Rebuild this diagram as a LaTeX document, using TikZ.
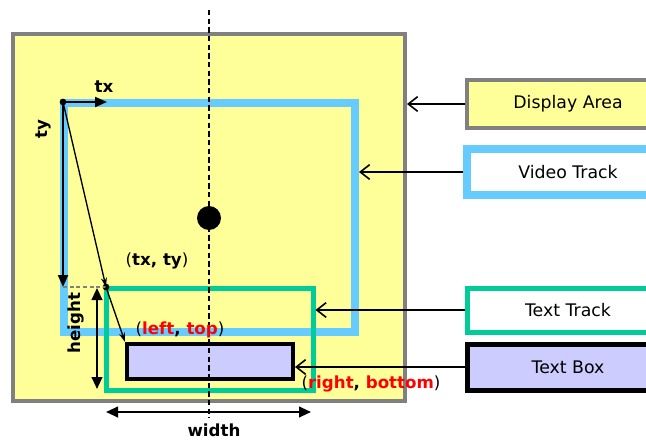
\documentclass[tikz,border=0pt]{standalone}
\usepackage{fontspec}
\setmainfont{DejaVu Sans}
\usetikzlibrary{arrows.meta}
\definecolor{areayellow}{HTML}{FFFF99}
\definecolor{areagray}{HTML}{808080}
\definecolor{videoblue}{HTML}{66CCFF}
\definecolor{trackgreen}{HTML}{00CC99}
\definecolor{boxlilac}{HTML}{CCCCFF}
\definecolor{labelred}{HTML}{FF0000}
\begin{document}
\begin{tikzpicture}[x=0.75pt, y=-0.75pt,
    region/.style={rectangle, draw, inner sep=0pt},
    legend/.style={rectangle, draw, inner sep=0pt, minimum width=151.5pt,
      font=\fontsize{13}{15}\selectfont},
    pointer/.style={line width=1.2pt, -{Straight Barb[length=7pt,width=11pt]}},
    measure/.style={line width=1.5pt,
      {Triangle[length=9pt,width=8pt]}-{Triangle[length=9pt,width=8pt]}},
    offset/.style={line width=1.5pt, -{Triangle[length=9pt,width=7.5pt]}},
    slant/.style={line width=1pt, -{Stealth[length=7pt,width=4.5pt]}},
    dot/.style={circle, fill, inner sep=0pt},
    tag/.style={font=\fontsize{12.5}{14}\selectfont\bfseries},
    coord/.style={font=\fontsize{12.5}{14}\selectfont}]
  \useasboundingbox (0,0) rectangle (646,439);
  \clip (0,0) rectangle (646,439);
  % display area, video track, text track, text box
  \node[region, draw=areagray, fill=areayellow, line width=3pt,
    minimum width=294pt, minimum height=275.25pt] (area) at (209,217.5) {};
  \node[region, draw=videoblue, line width=6pt,
    minimum width=218.25pt, minimum height=171.75pt] (video) at (209.5,217.5) {};
  \node[region, draw=trackgreen, line width=3.75pt,
    minimum width=155.25pt, minimum height=76.5pt] (track) at (209.5,339) {};
  \node[region, draw=black, fill=boxlilac, line width=3pt,
    minimum width=124.5pt, minimum height=26.25pt] (box) at (210,361.5) {};
  % centre line
  \coordinate (ctop) at (209,10);
  \coordinate (cbot) at (209,418);
  \draw[line width=1.2pt, dash pattern=on 4pt off 2.5pt] (ctop) -- (cbot);
  \node[dot, minimum size=18pt] (centre) at (209,218) {};
  % offsets
  \node[dot, minimum size=5pt] (origin) at (63,102) {};
  \node[dot, minimum size=5pt] (corner) at (106,287) {};
  \coordinate (txend) at (107,102);
  \draw[offset] (origin.center) -- (txend);
  \draw[offset] (origin.center) -- (origin.center |- corner.center);
  \draw[gray, line width=1pt, dash pattern=on 3pt off 2pt]
    (origin.center |- corner.center) -- (corner.center);
  \node[tag] (tx) at (104,87) {tx};
  \node[tag, rotate=90] (ty) at (43,129) {ty};
  \draw[slant] (origin.center) -- (corner.center);
  \draw[slant] (corner.center) -- (box.north west);
  \node[coord] (txty) at (157,261) {(\textbf{tx, ty})};
  \node[coord] (lefttop) at (180,330)
    {(\textbf{\textcolor{labelred}{left}, \textcolor{labelred}{top}})};
  \node[coord] (rightbottom) at (371,384)
    {(\textbf{\textcolor{labelred}{right}, \textcolor{labelred}{bottom}})};
  % size of the text track
  \coordinate (htop) at (97,288);
  \coordinate (hbot) at (97,389);
  \draw[measure] (htop) -- (hbot);
  \node[tag, rotate=90] (height) at (76,323) {height};
  \coordinate (wleft) at (106,412);
  \coordinate (wright) at (311,412);
  \draw[measure] (wleft) -- (wright);
  \node[tag] (width) at (214,430) {width};
  % legend
  \node[legend, draw=areagray, fill=areayellow, line width=3pt,
    minimum height=36pt] (dalabel) at (568,104) {Display Area};
  \node[legend, draw=videoblue, fill=white, line width=6pt,
    minimum height=34pt] (vtlabel) at (568,172) {Video Track};
  \node[legend, draw=trackgreen, fill=white, line width=3.75pt,
    minimum height=33pt] (ttlabel) at (568,310) {Text Track};
  \node[legend, draw=black, fill=boxlilac, line width=3.75pt,
    minimum height=34.5pt] (tblabel) at (568,367) {Text Box};
  \draw[pointer] (dalabel.west) -- (dalabel.west -| area.east);
  \draw[pointer] (vtlabel.west) -- (vtlabel.west -| video.east);
  \draw[pointer] (ttlabel.west) -- (ttlabel.west -| track.east);
  \draw[pointer] (tblabel.west) -- (tblabel.west -| box.east);
\end{tikzpicture}
\end{document}
